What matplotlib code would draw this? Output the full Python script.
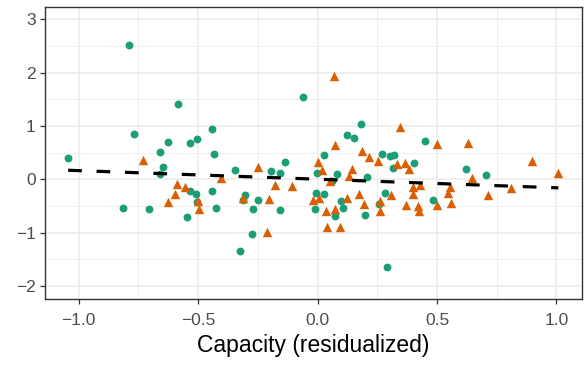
import numpy as np
import matplotlib
matplotlib.use("Agg")
import matplotlib.pyplot as plt
from matplotlib.ticker import MultipleLocator

# ---------------- data ----------------

green_x = [-1.044, -0.788, -0.767, -0.583, -0.625, -0.660, -0.647, -0.659, -0.532, -0.505,
           -0.441, -0.434, -0.814, -0.707, -0.536, -0.508, -0.505, -0.546, -0.440, -0.427,
           -0.345, -0.193, -0.158, -0.137, -0.059, 0.025, -0.002, 0.080, 0.062, 0.180,
           0.124, 0.151, 0.268, 0.304, 0.320, 0.316, 0.209, 0.448, 0.404, 0.623,
           0.705, -0.303, -0.310, -0.250, -0.270, -0.157, -0.273, -0.324, -0.005, 0.026,
           -0.012, 0.071, 0.100, 0.108, 0.197, 0.283, 0.256, 0.482, 0.289]
green_y = [0.40, 2.52, 0.85, 1.42, 0.70, 0.51, 0.23, 0.10, 0.68, 0.76,
           0.95, 0.47, -0.54, -0.55, -0.21, -0.28, -0.42, -0.70, -0.22, -0.54,
           0.18, 0.15, 0.12, 0.33, 1.55, 0.46, 0.12, 0.10, -0.04, 1.03,
           0.84, 0.77, 0.48, 0.43, 0.46, 0.22, 0.04, 0.71, 0.30, 0.19,
           0.08, -0.30, -0.38, -0.38, -0.55, -0.58, -1.02, -1.34, -0.26, -0.27,
           -0.56, -0.69, -0.40, -0.54, -0.67, -0.25, -0.47, -0.38, -1.65]

orange_x = [-0.730, -0.590, -0.556, -0.595, -0.627, -0.502, -0.496, -0.405, -0.251, -0.177,
            -0.107, -0.314, -0.205, -0.212, 0.000, 0.070, 0.071, 0.020, 0.187, 0.216,
            0.253, 0.144, 0.132, 0.054, 0.344, 0.332, 0.367, 0.384, 0.502, 0.628,
            0.899, 1.008, 0.645, 0.398, 0.430, 0.398, 0.371, 0.420, 0.426, 0.500,
            0.553, 0.546, 0.560, 0.713, 0.808, -0.017, 0.008, 0.034, 0.074, 0.039,
            0.092, 0.123, 0.175, 0.193, 0.263, 0.262, 0.306]
orange_y = [0.37, -0.08, -0.15, -0.28, -0.43, -0.40, -0.55, 0.02, 0.24, -0.10,
            -0.12, -0.36, -0.37, -0.98, 0.32, 1.94, 0.64, 0.17, 0.53, 0.41,
            0.35, 0.20, 0.06, -0.04, 0.98, 0.29, 0.31, 0.20, 0.67, 0.68,
            0.35, 0.12, 0.03, -0.15, -0.11, -0.28, -0.48, -0.51, -0.59, -0.48,
            -0.14, -0.25, -0.45, -0.30, -0.17, -0.39, -0.35, -0.60, -0.56, -0.90,
            -0.90, -0.35, -0.27, -0.47, -0.40, -0.59, -0.30]

# fitted line
fit_slope = -0.161
fit_intercept = 0.002

# ---------------- plot ----------------

plt.rcParams['font.family'] = ['Liberation Sans', 'DejaVu Sans']

fig = plt.figure(figsize=(5.84, 3.66), dpi=100)
ax = fig.add_axes([0.077, 0.184, 0.9196, 0.7977])

ax.set_xlim(-1.141, 1.107)
ax.set_ylim(-2.24, 3.24)

ax.xaxis.set_major_locator(MultipleLocator(0.5))
ax.xaxis.set_minor_locator(MultipleLocator(0.25))
ax.yaxis.set_major_locator(MultipleLocator(1))
ax.yaxis.set_minor_locator(MultipleLocator(0.5))

ax.grid(True, which="major", color="#EBEBEB", linewidth=1.1, zorder=0)
ax.grid(True, which="minor", color="#EBEBEB", linewidth=0.55, zorder=0)
ax.set_axisbelow(True)

ax.scatter(green_x, green_y, s=32, marker="o", color="#1B9E77", linewidths=0, zorder=3)
ax.scatter(orange_x, orange_y, s=46, marker="^", color="#D95F02", linewidths=0, zorder=3)

all_x = np.array(green_x + orange_x)
lx = np.array([all_x.min(), all_x.max()])
ax.plot(lx, fit_intercept + fit_slope * lx, color="black", linewidth=2.3,
        linestyle=(0, (4.3, 4.6)), zorder=4)

for sp in ax.spines.values():
    sp.set_color("#333333")
    sp.set_linewidth(1.0)

ax.tick_params(which="major", length=3.8, width=0.9, color="#333333",
               labelcolor="#4D4D4D", labelsize=12.5)
ax.tick_params(axis="y", which="major", pad=3)
ax.tick_params(axis="x", which="major", pad=6.5)
ax.tick_params(which="minor", length=0)

ax.set_xlabel("Capacity (residualized)", fontsize=16.5, color="black", labelpad=4)

fig.savefig("out.png", dpi=100)
